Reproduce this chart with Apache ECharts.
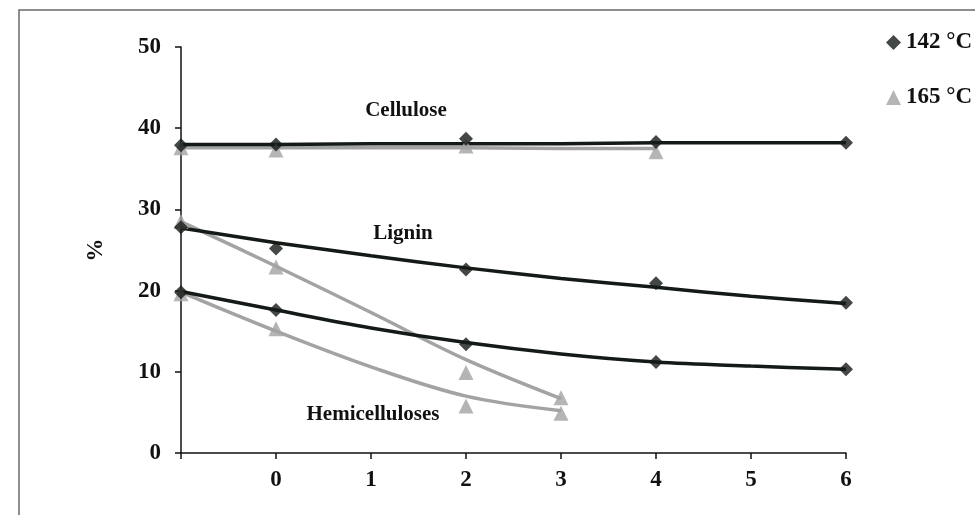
<!DOCTYPE html>
<html>
<head>
<meta charset="utf-8">
<script src="https://cdn.jsdelivr.net/npm/echarts@6/dist/echarts.min.js"></script>
<style>
html,body{margin:0;padding:0;background:#fff;}
#chart{width:975px;height:515px;}
</style>
</head>
<body>
<div id="chart"></div>
<script>
// Categories (first position is the unlabeled origin)
var xCategories = ["", "0", "1", "2", "3", "4", "5", "6"];
var yTicks = [0, 10, 20, 30, 40, 50];

// Measured points, 142 °C
var cellulose142 = [37.9, 38.0, null, 38.7, null, 38.3, null, 38.2];
var lignin142    = [27.8, 25.2, null, 22.6, null, 20.9, null, 18.5];
var hemi142      = [19.8, 17.6, null, 13.4, null, 11.2, null, 10.3];

// Measured points, 165 °C
var cellulose165 = [37.6, 37.3, null, 37.8, null, 37.1, null, null];
var lignin165    = [28.5, 22.9, null, 9.9, 6.8, null, null, null];
var hemi165      = [19.6, 15.3, null, 5.8, 4.9, null, null, null];

// Trend lines
var cellTrend142 = [38.0, 38.0, 38.1, 38.1, 38.1, 38.2, 38.2, 38.2];
var lignTrend142 = [27.7, 25.9, 24.3, 22.8, 21.5, 20.4, 19.3, 18.4];
var hemiTrend142 = [19.9, 17.6, 15.4, 13.6, 12.2, 11.2, 10.7, 10.3];
var cellTrend165 = [37.6, 37.6, 37.6, 37.6, 37.5, 37.5, null, null];
var lignTrend165 = [28.5, 23.0, 17.3, 11.5, 6.7, null, null, null];
var hemiTrend165 = [19.8, 15.0, 10.6, 7.0, 5.2, null, null, null];

var FONT = "'Liberation Serif', 'Times New Roman', serif";
var DARK = "#141a16";
var GRAY = "#a3a3a3";

function trend(data, color, sm) {
  return {
    type: 'line', data: data, smooth: sm, symbol: 'none', silent: true,
    lineStyle: { color: color, width: 3.5 }, z: color === GRAY ? 2 : 3,
    legendHoverLink: false
  };
}
function pts(name, data, sym, color) {
  return {
    name: name, type: 'scatter', data: data, symbol: sym, symbolSize: sym === 'diamond' ? 14 : 15,
    itemStyle: { color: color }, z: 4
  };
}

var chart = echarts.init(document.getElementById('chart'));
chart.setOption({
  animation: false,
  backgroundColor: '#fff',
  grid: { left: 181, right: 129, top: 47, bottom: 62, containLabel: false },
  legend: {
    orient: 'vertical', left: 881, top: 26, itemGap: 32, itemWidth: 15, itemHeight: 15,
    textStyle: { fontFamily: FONT, fontWeight: 'bold', fontSize: 23, color: '#111' },
    data: [
      { name: '142 °C', icon: 'diamond' },
      { name: '165 °C', icon: 'triangle' }
    ]
  },
  xAxis: {
    type: 'category', data: xCategories, boundaryGap: false,
    axisLine: { lineStyle: { color: '#111', width: 1.5 } },
    axisTick: { show: true, length: 6, lineStyle: { color: '#111', width: 1.5 } },
    axisLabel: { fontFamily: FONT, fontWeight: 'bold', fontSize: 23, color: '#111', margin: 16, interval: 0 },
    splitLine: { show: false }
  },
  yAxis: {
    type: 'value', min: yTicks[0], max: yTicks[yTicks.length - 1], interval: 10,
    name: '%', nameLocation: 'middle', nameRotate: 90, nameGap: 73,
    nameTextStyle: { fontFamily: FONT, fontWeight: 'bold', fontSize: 23, color: '#111' },
    axisLine: { show: true, lineStyle: { color: '#111', width: 1.5 } },
    axisTick: { show: true, length: 6, lineStyle: { color: '#111', width: 1.5 } },
    axisLabel: { fontFamily: FONT, fontWeight: 'bold', fontSize: 23, color: '#111', margin: 20 },
    splitLine: { show: false }
  },
  graphic: [
    { type: 'rect', shape: { x: 19, y: 10, width: 1000, height: 1000 },
      style: { fill: 'none', stroke: '#6a6a6a', lineWidth: 1.5 }, silent: true },
    { type: 'text', x: 406, y: 111, style: { text: 'Cellulose', font: 'bold 21px ' + FONT, fill: '#111', align: 'center', verticalAlign: 'middle' } },
    { type: 'text', x: 403, y: 234, style: { text: 'Lignin', font: 'bold 21px ' + FONT, fill: '#111', align: 'center', verticalAlign: 'middle' } },
    { type: 'text', x: 373, y: 415, style: { text: 'Hemicelluloses', font: 'bold 21px ' + FONT, fill: '#111', align: 'center', verticalAlign: 'middle' } }
  ],
  series: [
    trend(cellTrend165, GRAY, false), trend(lignTrend165, GRAY, 0.35), trend(hemiTrend165, GRAY, 0.35),
    trend(cellTrend142, DARK, false), trend(lignTrend142, DARK, 0.35), trend(hemiTrend142, DARK, 0.35),
    pts('165 °C', cellulose165, 'triangle', GRAY),
    pts('165 °C', lignin165, 'triangle', GRAY),
    pts('165 °C', hemi165, 'triangle', GRAY),
    pts('142 °C', cellulose142, 'diamond', DARK),
    pts('142 °C', lignin142, 'diamond', DARK),
    pts('142 °C', hemi142, 'diamond', DARK)
  ]
});
</script>
</body>
</html>
